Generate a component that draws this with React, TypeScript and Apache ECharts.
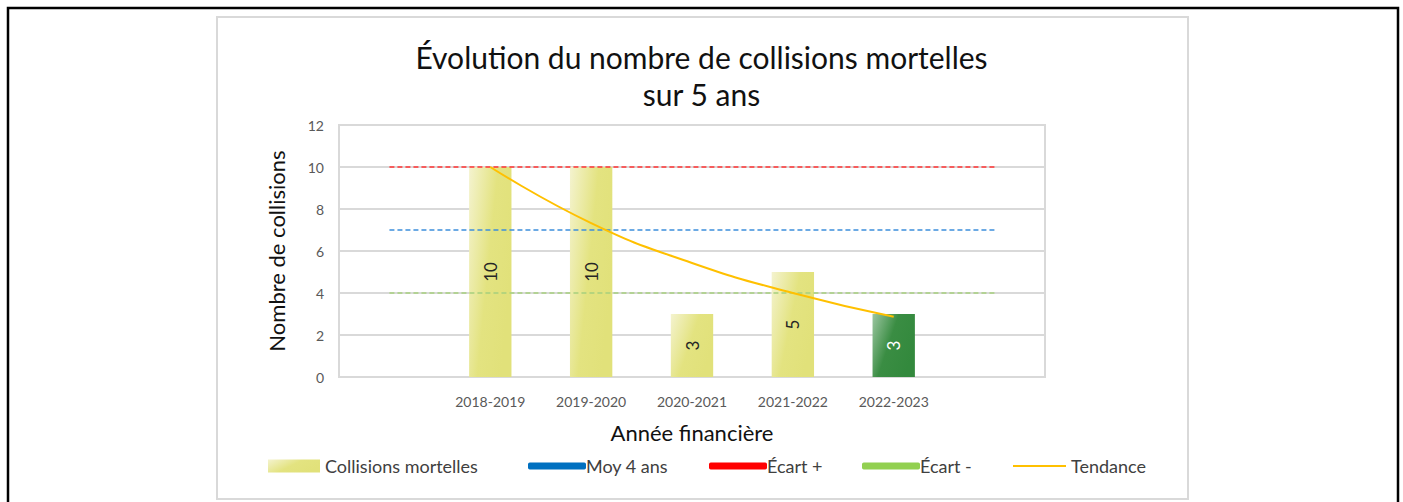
import React, { useEffect, useRef } from "react";
import * as echarts from "echarts";

const categories = ["", "2018-2019", "2019-2020", "2020-2021", "2021-2022", "2022-2023", ""];
const collisions = ["-", 10, 10, 3, 5, 3, "-"];
const moy4ans = [7, 7, 7, 7, 7, 7, 7];
const ecartPlus = [10, 10, 10, 10, 10, 10, 10];
const ecartMoins = [4, 4, 4, 4, 4, 4, 4];
const tendance = ["-", 10, 7.33, 5.43, 4.0, 2.87, "-"];
const highlightCategory = "2022-2023";
const yTicks = { min: 0, max: 12, interval: 2 };

const FONT = "Lato";

const yellowGrad = () =>
  new echarts.graphic.LinearGradient(0, 0, 1, 0.5, [
    { offset: 0, color: "#f4f3cf" },
    { offset: 0.55, color: "#e3e380" },
    { offset: 1, color: "#e1e17a" },
  ]);
const greenGrad = () =>
  new echarts.graphic.LinearGradient(0, 0, 1, 0.5, [
    { offset: 0, color: "#9cc6a1" },
    { offset: 0.5, color: "#3a8d43" },
    { offset: 1, color: "#33893d" },
  ]);

export default function App() {
  const ref = useRef<HTMLDivElement>(null);
  useEffect(() => {
    if (!ref.current) return;
    const chart = echarts.init(ref.current, null, { renderer: "svg" });

    const barData = collisions.map((v, i) =>
      categories[i] === highlightCategory
        ? { value: v, itemStyle: { color: greenGrad() }, label: { color: "#ffffff" } }
        : { value: v }
    );

    const legendText = { fontFamily: FONT, fontSize: 18, color: "#404040" };
    const lineLegend = (name: string, left: number, color: string) => ({
      show: true,
      left,
      top: 457,
      padding: 0,
      itemWidth: 58,
      itemHeight: 7,
      itemGap: 0,
      textStyle: { ...legendText, padding: [0, 0, 0, -5] },
      data: [{ name, icon: "roundRect", itemStyle: { color } }],
    });

    chart.setOption({
      animation: false,
      textStyle: { fontFamily: FONT },
      title: {
        text: "Évolution du nombre de collisions mortelles\nsur 5 ans",
        left: "center",
        top: 33,
        textStyle: { fontFamily: FONT, fontSize: 30, fontWeight: "normal", color: "#111", lineHeight: 37 },
      },
      graphic: [
        { type: "rect", shape: { x: 8, y: 8, width: 1390, height: 600 }, style: { fill: "none", stroke: "#000", lineWidth: 2.5 }, silent: true },
        { type: "rect", shape: { x: 217, y: 17, width: 971, height: 482 }, style: { fill: "none", stroke: "#d9d9d9", lineWidth: 2 }, silent: true },
      ],
      grid: {
        left: 339,
        right: 358,
        top: 125,
        bottom: 125,
        show: true,
        borderColor: "#d9d9d9",
        borderWidth: 2,
      },
      legend: [
        {
          show: true,
          left: 268,
          top: 457,
          padding: 0,
          itemWidth: 52,
          itemHeight: 13,
          textStyle: { ...legendText },
          data: [{ name: "Collisions mortelles", icon: "rect", itemStyle: { color: yellowGrad() } }],
        },
        lineLegend("Moy 4 ans", 528, "#0070c0"),
        lineLegend("Écart +", 709, "#ff0000"),
        lineLegend("Écart -", 862, "#92d050"),
        {
          show: true,
          left: 1013,
          top: 457,
          padding: 0,
          itemWidth: 53,
          itemHeight: 2,
          textStyle: { ...legendText },
          data: [{ name: "Tendance", icon: "rect", itemStyle: { color: "#ffc000" } }],
        },
      ],
      xAxis: {
        type: "category",
        data: categories,
        name: "Année financière",
        nameLocation: "middle",
        nameGap: 44,
        nameTextStyle: { fontFamily: FONT, fontSize: 22, color: "#111" },
        axisLine: { lineStyle: { color: "#d9d9d9", width: 2 } },
        axisTick: { show: false },
        axisLabel: { fontFamily: FONT, fontSize: 14, color: "#595959", margin: 17, interval: 0 },
      },
      yAxis: {
        type: "value",
        min: yTicks.min,
        max: yTicks.max,
        interval: yTicks.interval,
        name: "Nombre de collisions",
        nameLocation: "middle",
        nameGap: 52,
        nameTextStyle: { fontFamily: FONT, fontSize: 22, color: "#111" },
        axisLine: { show: false },
        axisTick: { show: false },
        axisLabel: { fontFamily: FONT, fontSize: 14, color: "#595959", margin: 15 },
        splitLine: { lineStyle: { color: "#d9d9d9", width: 2 } },
      },
      series: [
        {
          name: "Collisions mortelles",
          type: "bar",
          data: barData,
          barWidth: "42%",
          itemStyle: { color: yellowGrad() },
          label: {
            show: true,
            position: "inside",
            rotate: 90,
            fontFamily: FONT,
            fontSize: 17,
            color: "#262626",
          },
        },
        {
          name: "Moy 4 ans",
          type: "line",
          data: moy4ans,
          symbol: "none",
          lineStyle: { color: "#3d8fdc", width: 1.5, type: [5, 3] },
          itemStyle: { color: "#0070c0" },
        },
        {
          name: "Écart +",
          type: "line",
          data: ecartPlus,
          symbol: "none",
          lineStyle: { color: "#ff3333", width: 1.5, type: [5, 3] },
          itemStyle: { color: "#ff0000" },
        },
        {
          name: "Écart -",
          type: "line",
          data: ecartMoins,
          symbol: "none",
          lineStyle: { color: "#a6d07e", width: 1.5, type: [5, 3] },
          itemStyle: { color: "#92d050" },
        },
        {
          name: "Tendance",
          type: "line",
          data: tendance,
          symbol: "none",
          smooth: true,
          lineStyle: { color: "#ffc000", width: 2 },
          itemStyle: { color: "#ffc000" },
        },
      ],
    });
    return () => chart.dispose();
  }, []);
  return (
    <div
      ref={ref}
      style={{ position: "absolute", left: 0, top: 0, width: 1403, height: 502, background: "#fff" }}
    />
  );
}
